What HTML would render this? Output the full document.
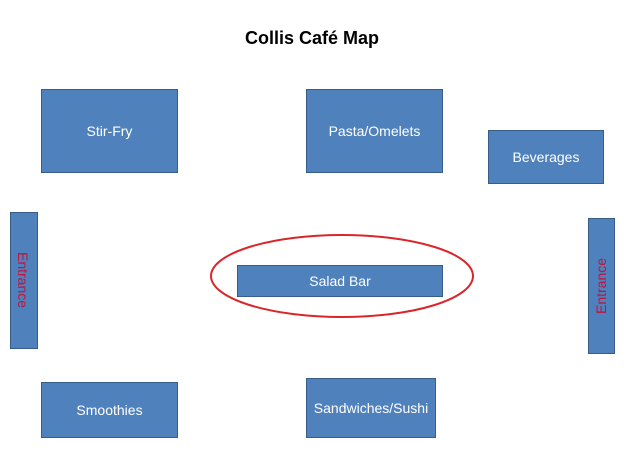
<!DOCTYPE html>
<html><head><style>
body{margin:0;width:624px;height:468px;background:#fff;position:relative;font-family:"Liberation Sans",sans-serif;overflow:hidden}
.b{position:absolute;background:#4f81bd;border:1.5px solid #385d8a;box-sizing:border-box;color:#fff;font-size:14px;display:flex;align-items:center;justify-content:center}
.v{position:absolute;color:#c0143c;font-size:14px;white-space:nowrap}
</style></head><body>
<div style="position:absolute;left:0;width:624px;top:28px;text-align:center;font-weight:bold;font-size:18px">Collis Café Map</div>
<div class="b" style="left:41px;top:89px;width:137px;height:84px">Stir-Fry</div>
<div class="b" style="left:306px;top:89px;width:137px;height:84px">Pasta/Omelets</div>
<div class="b" style="left:488px;top:130px;width:116px;height:54px">Beverages</div>
<div class="b" style="left:10px;top:212px;width:28px;height:137px"></div>
<div class="v" style="left:23px;top:280px;transform:translate(-50%,-50%) rotate(90deg)">Entrance</div>
<div class="b" style="left:588px;top:218px;width:27px;height:136px"></div>
<div class="v" style="left:601px;top:286px;transform:translate(-50%,-50%) rotate(-90deg)">Entrance</div>
<div class="b" style="left:237px;top:265px;width:206px;height:32px">Salad Bar</div>
<svg style="position:absolute;left:0;top:0" width="624" height="468"><ellipse cx="342" cy="276" rx="131" ry="41" fill="none" stroke="#d9262a" stroke-width="2"/></svg>
<div class="b" style="left:41px;top:382px;width:137px;height:56px">Smoothies</div>
<div class="b" style="left:306px;top:378px;width:130px;height:60px">Sandwiches/Sushi</div>
</body></html>
